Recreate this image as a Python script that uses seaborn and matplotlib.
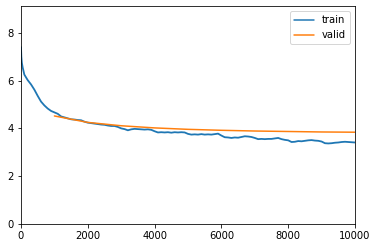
import matplotlib
matplotlib.use("Agg")
import matplotlib.pyplot as plt
import seaborn as sns
import pandas as pd

train_iter = [0, 10, 25, 50, 75] + list(range(100, 10001, 100))
train_loss = [7.4, 7.0, 6.75, 6.55, 6.4,
              6.25, 6.02, 5.84, 5.62, 5.36, 5.12, 4.96, 4.83, 4.73, 4.67,
              4.61, 4.5, 4.46, 4.42, 4.38, 4.37, 4.35, 4.34, 4.28, 4.24,
              4.22, 4.2, 4.18, 4.16, 4.15, 4.12, 4.1, 4.1, 4.06, 4.0,
              3.97, 3.92, 3.96, 3.98, 3.97, 3.96, 3.95, 3.96, 3.94, 3.88,
              3.83, 3.84, 3.83, 3.84, 3.82, 3.84, 3.83, 3.84, 3.83, 3.77,
              3.74, 3.75, 3.74, 3.76, 3.74, 3.75, 3.74, 3.76, 3.78, 3.7,
              3.63, 3.62, 3.6, 3.62, 3.61, 3.64, 3.67, 3.66, 3.64, 3.6,
              3.55, 3.56, 3.55, 3.56, 3.56, 3.58, 3.6, 3.55, 3.52, 3.5,
              3.43, 3.44, 3.47, 3.46, 3.48, 3.5, 3.51, 3.49, 3.48, 3.45,
              3.38, 3.37, 3.38, 3.4, 3.41, 3.43, 3.44, 3.43, 3.42, 3.41]

valid_iter = [1000, 2000, 3000, 4000, 5000, 6000, 7000, 8000, 9000, 10000]
valid_loss = [4.52, 4.25, 4.11, 4.02, 3.96, 3.92, 3.89, 3.87, 3.85, 3.84]

sns.set_theme(style="ticks", rc={"axes.edgecolor": "black", "xtick.color": "black",
                                 "ytick.color": "black", "text.color": "black",
                                 "axes.labelcolor": "black"})
plt.rcParams['font.family'] = ['DejaVu Sans']
plt.rcParams['font.size'] = 10

fig = plt.figure(figsize=(378 / 72, 248 / 72), dpi=72)
ax = fig.add_axes([21 / 378, 24 / 248, 334 / 378, 218 / 248])

train_df = pd.DataFrame({"iter": train_iter, "loss": train_loss})
valid_df = pd.DataFrame({"iter": valid_iter, "loss": valid_loss})

sns.lineplot(data=train_df, x="iter", y="loss", ax=ax, color="#1f77b4",
             linewidth=1.8, label="train")
sns.lineplot(data=valid_df, x="iter", y="loss", ax=ax, color="#ff7f0e",
             linewidth=1.5, label="valid")

ax.set_xlim(0, 10000)
ax.set_ylim(0, 9.12)
ax.set_xticks([0, 2000, 4000, 6000, 8000, 10000])
ax.set_yticks([0, 2, 4, 6, 8])
ax.set_xlabel("")
ax.set_ylabel("")
ax.tick_params(labelsize=10, length=3.5, width=0.8)
for s in ax.spines.values():
    s.set_linewidth(0.8)
leg = ax.legend(loc="upper right", fontsize=10, frameon=True)
for ln in leg.get_lines():
    ln.set_linewidth(1.5)

fig.savefig("out.png", dpi=72)
